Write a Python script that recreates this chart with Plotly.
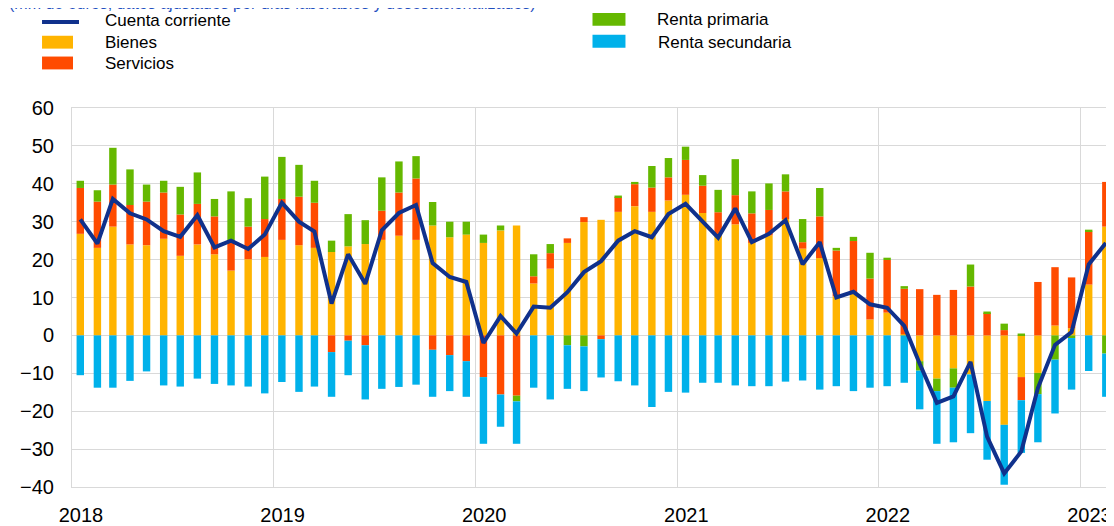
import plotly.graph_objects as go

# ---- data (monthly, Jan 2018 - Feb 2023), EUR bn ----
months = [f"{y}-{m:02d}-16" for y in range(2018, 2024) for m in range(1, 13)][:62]

bienes = [26.8, 23.1, 28.7, 24.0, 23.8, 25.5, 21.0, 24.0, 21.4, 17.1, 20.1, 20.7,
          25.2, 23.8, 23.1, 22.0, 23.5, 24.1, 25.2, 26.3, 25.2, 29.0, 25.9, 26.6,
          24.4, 27.7, 29.0, 13.7, 17.6, 24.4, 29.9, 30.5, 32.6, 34.1, 32.6, 35.6,
          37.1, 32.3, 26.4, 29.3, 24.4, 26.4, 30.7, 22.9, 20.4, 10.3, 11.0, 4.2,
          6.0, 0.3, -6.8, -11.4, -8.7, -10.3, -17.3, -23.6, -11.0, -9.9, 2.6, 1.9,
          13.4, 28.7]
servicios = [12.1, 12.2, 11.1, 10.4, 11.5, 12.2, 10.9, 10.7, 10.0, 8.0, 8.6, 10.0,
             10.8, 12.8, 11.9, -4.4, -1.4, -2.6, 7.7, 11.4, 16.2, -3.8, -5.2, -6.8,
             -11.0, -15.6, -15.9, 1.9, 4.1, 1.2, 1.3, -1.0, 3.9, 5.8, 6.4, 6.1,
             9.2, 7.2, 6.1, 7.7, 7.8, 6.7, 7.3, 1.7, 11.0, 12.1, 13.9, 10.8,
             13.9, 12.0, 12.2, 10.7, 12.0, 12.9, 5.9, 1.4, -6.1, 14.1, 15.4, 13.4,
             14.0, 11.8]
renta_primaria = [1.9, 3.0, 9.7, 9.4, 4.5, 3.1, 7.3, 8.3, 4.6, 12.9, 7.5, 11.2,
                  11.1, 8.4, 5.8, 3.0, 8.5, 6.3, 8.8, 8.2, 5.9, 6.2, 4.1, 3.4,
                  2.2, 1.3, -1.5, 5.8, 2.4, -2.6, -2.9, 0.0, 0.4, 0.6, 5.7, 5.1,
                  3.5, 2.8, 5.9, 9.5, 5.8, 7.0, 4.5, 6.1, 7.5, 0.7, 1.1, 6.8,
                  0.6, 0.7, -2.5, -3.3, -5.1, 5.8, 0.4, 1.7, 0.5, -5.6, -6.4, -0.7,
                  0.5, -4.8]
renta_secundaria = [-10.5, -13.8, -13.8, -12.0, -9.5, -13.2, -13.5, -11.4, -12.8, -13.2, -13.5, -15.3,
                    -12.3, -14.9, -13.5, -11.8, -9.1, -14.3, -14.1, -13.6, -13.0, -12.4, -9.5, -9.4,
                    -17.6, -8.5, -11.2, -13.8, -16.9, -11.5, -11.8, -10.1, -12.1, -13.2, -18.9, -14.9,
                    -15.1, -12.5, -12.5, -13.2, -13.4, -13.4, -12.2, -11.9, -14.3, -13.4, -14.7, -13.8,
                    -13.4, -12.5, -10.2, -13.9, -14.4, -15.5, -15.5, -15.8, -13.9, -12.7, -14.2, -13.6,
                    -9.4, -11.4]
cuenta_corriente = [30.6, 24.2, 36.0, 32.2, 30.6, 27.5, 26.0, 31.7, 23.2, 25.0, 22.8, 26.6,
                    35.0, 30.0, 27.4, 8.4, 21.4, 13.6, 27.7, 32.3, 34.4, 19.1, 15.4, 14.1,
                    -2.0, 5.1, 0.5, 7.6, 7.3, 11.4, 16.7, 19.6, 25.0, 27.5, 25.9, 32.0,
                    34.7, 29.9, 25.8, 33.5, 24.6, 26.8, 30.4, 18.8, 24.6, 10.0, 11.5, 8.2,
                    7.3, 2.5, -7.5, -17.8, -16.1, -7.0, -26.7, -36.4, -30.6, -13.9, -2.5, 0.9,
                    18.7, 24.4]

year_ticks = ["2018-01-01", "2019-01-01", "2020-01-01", "2021-01-01", "2022-01-01", "2023-01-01"]
year_labels = ["2018", "2019", "2020", "2021", "2022", "2023"]

title_text = "(mm de euros, datos ajustados por días laborables y desestacionalizados)"
series_names = ["Cuenta corriente", "Bienes", "Servicios", "Renta primaria", "Renta secundaria"]

# ---- styles ----
C_LINE = "#10318c"
C_BIENES = "#FFB400"
C_SERV = "#FF4B00"
C_PRIM = "#65B800"
C_SEC = "#00B1EA"
GRID = "#d9d9d9"
FONT = "Liberation Sans, Arial, sans-serif"

OFF = 8  # page body margin offset
W, H = 1114 - OFF, 526 - OFF
L, T, PW, PH = 72 - OFF, 108 - OFF, 1042, 383


def px(x):
    # reference page pixel -> paper coordinate
    return (x - OFF - L) / PW


def py(y):
    return (T + PH - (y - OFF)) / PH


fig = go.Figure()
for name, vals, col in [(series_names[1], bienes, C_BIENES),
                        (series_names[2], servicios, C_SERV),
                        (series_names[3], renta_primaria, C_PRIM),
                        (series_names[4], renta_secundaria, C_SEC)]:
    fig.add_trace(go.Bar(x=months, y=vals, name=name, marker=dict(color=col, line=dict(width=0))))

fig.add_trace(go.Scatter(x=months, y=cuenta_corriente, name=series_names[0], mode="lines",
                         line=dict(color=C_LINE, width=4)))

shapes = []
annotations = []

# manual legend
shapes.append(dict(type="line", xref="paper", yref="paper", x0=px(42), x1=px(79), y0=py(21), y1=py(21),
                   line=dict(color=C_LINE, width=4)))
for (x0, x1, y0, y1, col) in [(42, 73, 35, 48, C_BIENES), (42, 73, 56, 69, C_SERV),
                              (593, 626, 12, 25, C_PRIM), (593, 626, 34, 47, C_SEC)]:
    shapes.append(dict(type="rect", xref="paper", yref="paper", x0=px(x0), x1=px(x1), y0=py(y1), y1=py(y0),
                       fillcolor=col, line=dict(width=0)))
for (txt, x, y) in [(series_names[0], 103, 20), (series_names[1], 103, 42), (series_names[2], 103, 63),
                    (series_names[3], 656, 19), (series_names[4], 657, 42)]:
    annotations.append(dict(text=txt, xref="paper", yref="paper", x=px(x), y=py(y), xanchor="left",
                            yanchor="middle", showarrow=False, font=dict(size=17, color="#000000", family=FONT)))

annotations.append(dict(text=title_text, xref="paper", yref="paper", x=px(7), y=py(2), xanchor="left",
                        yanchor="middle", showarrow=False, font=dict(size=16, color="#1f4fbf", family=FONT)))

fig.update_layout(
    width=W, height=H,
    margin=dict(l=L, r=W - L - PW, t=T, b=H - T - PH, pad=0),
    barmode="relative", bargap=0.52,
    plot_bgcolor="white", paper_bgcolor="white",
    showlegend=False,
    font=dict(family=FONT, size=20, color="#000000"),
    shapes=shapes, annotations=annotations,
)
fig.update_xaxes(
    type="date", range=["2018-01-01", "2023-03-01"],
    tickmode="array", tickvals=year_ticks, ticktext=year_labels,
    ticklabelshift=9, ticklabelstandoff=10,
    showgrid=True, gridcolor=GRID, gridwidth=1,
    showline=True, linecolor=GRID, linewidth=1, mirror=True,
    ticks="", tickfont=dict(size=20),
)
fig.update_yaxes(
    range=[-40, 60], dtick=10, tick0=0,
    showgrid=True, gridcolor=GRID, gridwidth=1, zeroline=False,
    showline=True, linecolor=GRID, linewidth=1, mirror=True,
    ticks="", ticklabelstandoff=13, tickfont=dict(size=20),
)

fig.write_html("out.html")
